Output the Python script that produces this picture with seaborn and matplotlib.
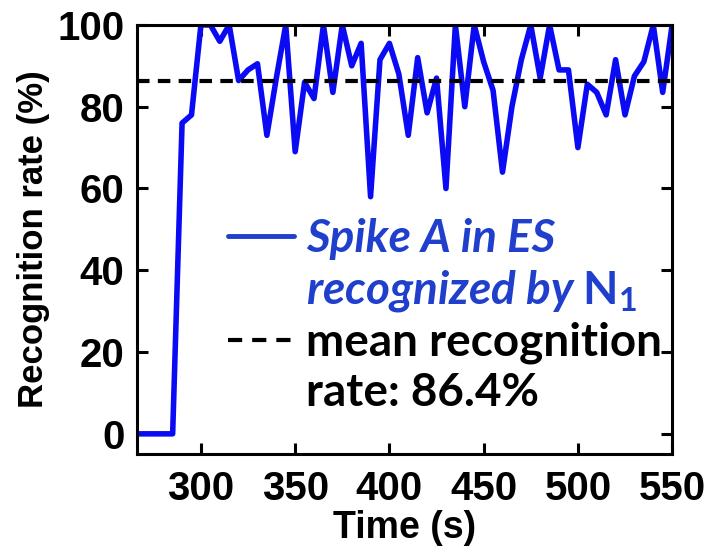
import matplotlib
matplotlib.use('Agg')
import matplotlib.pyplot as plt
from matplotlib.lines import Line2D
import pandas as pd
import seaborn as sns

# data (5 s sampling)
time_s = [265, 270, 275, 280, 285, 290, 295, 300, 305, 310,
          315, 320, 325, 330, 335, 340, 345, 350, 355, 360,
          365, 370, 375, 380, 385, 390, 395, 400, 405, 410,
          415, 420, 425, 430, 435, 440, 445, 450, 455, 460,
          465, 470, 475, 480, 485, 490, 495, 500, 505, 510,
          515, 520, 525, 530, 535, 540, 545, 550]
rate = [0, 0, 0, 0, 0, 76, 78, 100, 100, 96,
        100, 86.4, 89, 90.5, 73, 87, 100, 69, 86, 82,
        100, 83.5, 100, 90, 95.5, 58, 91.5, 95.5, 88, 73,
        92, 78.5, 87, 60, 100, 80, 100, 91, 84, 64,
        80, 91.5, 100, 87, 100, 89, 89, 70, 85.5, 83.5,
        78, 91.5, 78, 87.5, 91, 100, 83.5, 100]
mean_rate = 86.4

x_ticks = [300, 350, 400, 450, 500, 550]
y_ticks = [0, 20, 40, 60, 80, 100]

legend_labels = ['Spike A in ES', r'recognized by $\mathrm{N_1}$',
                 'mean recognition', 'rate: 86.4%']

sns.set_style('ticks')
plt.rcParams['font.family'] = ['Liberation Sans', 'DejaVu Sans']
plt.rcParams['font.weight'] = 'bold'
plt.rcParams['mathtext.fontset'] = 'custom'
plt.rcParams['mathtext.rm'] = 'Lato:bold'
for key in ['text.color', 'axes.labelcolor', 'xtick.color', 'ytick.color', 'axes.edgecolor']:
    plt.rcParams[key] = 'black'

df = pd.DataFrame({'Time': time_s, 'Rate': rate})

fig = plt.figure(figsize=(7.09, 5.54), dpi=100)
ax = fig.add_axes([0.193, 0.180, 0.755, 0.775])

sns.lineplot(data=df, x='Time', y='Rate', ax=ax, color='#0a0af5', lw=4)
ax.axhline(mean_rate, color='black', lw=3, ls=(0, (3.0, 2.0)))

ax.set_xlim(266, 550)
ax.set_ylim(-5, 100)
ax.set_xticks(x_ticks)
ax.set_yticks(y_ticks)
ax.set_xlabel('Time (s)', fontsize=27, fontweight='bold', labelpad=2)
ax.set_ylabel('Recognition rate (%)', fontsize=25, fontweight='bold', labelpad=5)
ax.tick_params(direction='in', length=8, width=2.2, top=True, right=True,
               labelsize=29)
ax.tick_params(axis='x', pad=11)
ax.tick_params(axis='y', pad=9)
for s in ax.spines.values():
    s.set_linewidth(2.2)

# legend
blue_txt = '#1f3fcc'
handles = [Line2D([], [], color=blue_txt, lw=3.5),
           Line2D([], [], color='none'),
           Line2D([], [], color='black', lw=3, ls=(0, (3.4, 2.4))),
           Line2D([], [], color='none')]
leg = ax.legend(handles, legend_labels, loc='upper left',
                bbox_to_anchor=(0.17, 0.55), frameon=False,
                prop={'family': 'Lato', 'size': 33, 'weight': 'bold'},
                handlelength=1.45, handletextpad=0.25, labelspacing=0.17,
                borderpad=0, borderaxespad=0)
for t in leg.get_texts()[:2]:
    t.set_color(blue_txt)
    t.set_style('italic')

fig.savefig('out.png', dpi=100)
